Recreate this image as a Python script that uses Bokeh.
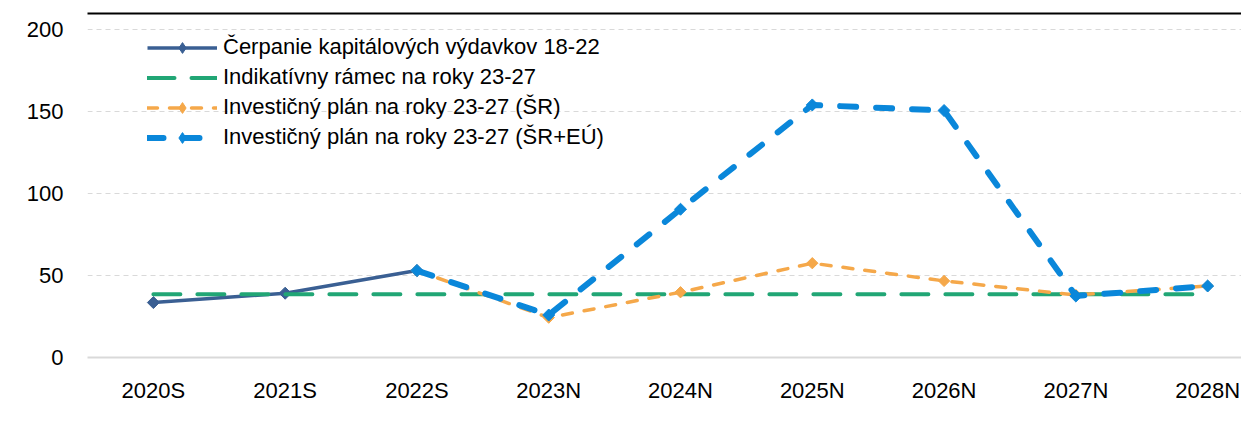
import math
from bokeh.plotting import figure
from bokeh.models import (Range1d, FixedTicker, Legend, LegendItem, LinearAxis)
from bokeh.embed import file_html
from bokeh.resources import INLINE

nan = float("nan")

categories = ["2020S", "2021S", "2022S", "2023N", "2024N", "2025N", "2026N", "2027N", "2028N"]
cerpanie = [33.5, 39.2, 53.0, nan, nan, nan, nan, nan, nan]
ramec = [38.6, 38.6, 38.6, 38.6, 38.6, 38.6, 38.6, 38.6, 38.6]
plan_sr = [nan, nan, 53.0, 24.3, 39.8, 57.5, 46.7, 38.1, 43.6]
plan_sr_eu = [nan, nan, 53.0, 25.9, 90.4, 154.0, 150.6, 37.5, 43.6]
y_ticks = [0, 50, 100, 150, 200]

names = ["Čerpanie kapitálových výdavkov 18-22",
         "Indikatívny rámec na roky 23-27",
         "Investičný plán na roky 23-27 (ŠR)",
         "Investičný plán na roky 23-27 (ŠR+EÚ)"]

FONT = "Liberation Sans"
FSIZE = "22px"
xs = list(range(len(categories)))

p = figure(width=1241, height=417, output_backend="svg", toolbar_location=None,
           title=None, x_range=Range1d(-0.5, 8.257), y_range=Range1d(0, 209.76),
           min_border_left=87, min_border_right=0, min_border_top=13,
           min_border_bottom=60)
p.outline_line_color = None
p.background_fill_color = "white"
p.border_fill_color = "white"

# axes
p.xaxis.ticker = FixedTicker(ticks=xs)
p.xaxis.major_label_overrides = {i: c for i, c in enumerate(categories)}
p.yaxis.ticker = FixedTicker(ticks=y_ticks)
for ax in (p.xaxis[0], p.yaxis[0]):
    ax.major_tick_line_color = None
    ax.minor_tick_line_color = None
    ax.major_tick_in = 0
    ax.major_tick_out = 0
    ax.major_label_text_font = FONT
    ax.major_label_text_font_size = FSIZE
    ax.major_label_text_color = "black"
p.yaxis.axis_line_color = None
p.yaxis.major_label_standoff = 24
p.xaxis.axis_line_color = "#D9D9D9"
p.xaxis.axis_line_width = 2
p.xaxis.major_label_standoff = 20

# black rule along the top of the chart (an empty axis above the frame)
top_axis = LinearAxis(ticker=FixedTicker(ticks=[]), axis_line_color="black",
                      axis_line_width=2, major_tick_line_color=None,
                      minor_tick_line_color=None, major_tick_in=0, major_tick_out=0,
                      minor_tick_in=0, minor_tick_out=0, major_label_standoff=0,
                      major_label_text_font_size="1px")
p.add_layout(top_axis, "above")

p.xgrid.grid_line_color = None
p.ygrid.grid_line_color = "#D9D9D9"
p.ygrid.grid_line_dash = "5 4"
p.ygrid.grid_line_width = 1

c_dark = "#3A5F93"
c_green = "#21A675"
c_orange = "#F5A84A"
c_blue = "#0A87DA"
ang = math.pi / 4

l1 = p.line(xs, cerpanie, line_color=c_dark, line_width=3.5)
m1 = p.scatter(xs, cerpanie, marker="square", angle=ang, size=8.5,
               fill_color=c_dark, line_color=c_dark)

l2 = p.line(xs, ramec, line_color=c_green, line_width=4, line_dash="27 17",
            line_cap="round")

l3 = p.line(xs, plan_sr, line_color=c_orange, line_width=3.5, line_dash="10 12",
            line_cap="round")
m3 = p.scatter(xs, plan_sr, marker="square", angle=ang, size=8,
               fill_color=c_orange, line_color=c_orange)

l4 = p.line(xs, plan_sr_eu, line_color=c_blue, line_width=6, line_dash="16 20",
            line_cap="round")
m4 = p.scatter(xs, plan_sr_eu, marker="square", angle=ang, size=8.5,
               fill_color=c_blue, line_color=c_blue)

# legend-only diamond markers (legend ignores marker angle); never visible in plot
d1 = p.scatter([nan], [nan], marker="diamond", size=11, fill_color=c_dark, line_color=c_dark)
d3 = p.scatter([nan], [nan], marker="diamond", size=11, fill_color=c_orange, line_color=c_orange)
d4 = p.scatter([nan], [nan], marker="diamond", size=11, fill_color=c_blue, line_color=c_blue)

legend = Legend(items=[
    LegendItem(label=names[0], renderers=[l1, d1]),
    LegendItem(label=names[1], renderers=[l2]),
    LegendItem(label=names[2], renderers=[l3, d3]),
    LegendItem(label=names[3], renderers=[l4, d4]),
], location=(60, 205))
legend.glyph_width = 70
legend.glyph_height = 27
legend.label_height = 30
legend.spacing = 0
legend.padding = 0
legend.margin = 0
legend.label_standoff = 6
legend.label_text_font = FONT
legend.label_text_font_size = FSIZE
legend.label_text_color = "black"
legend.border_line_color = None
legend.background_fill_alpha = 0
p.add_layout(legend)

open("out.html", "w").write(file_html(p, INLINE))
